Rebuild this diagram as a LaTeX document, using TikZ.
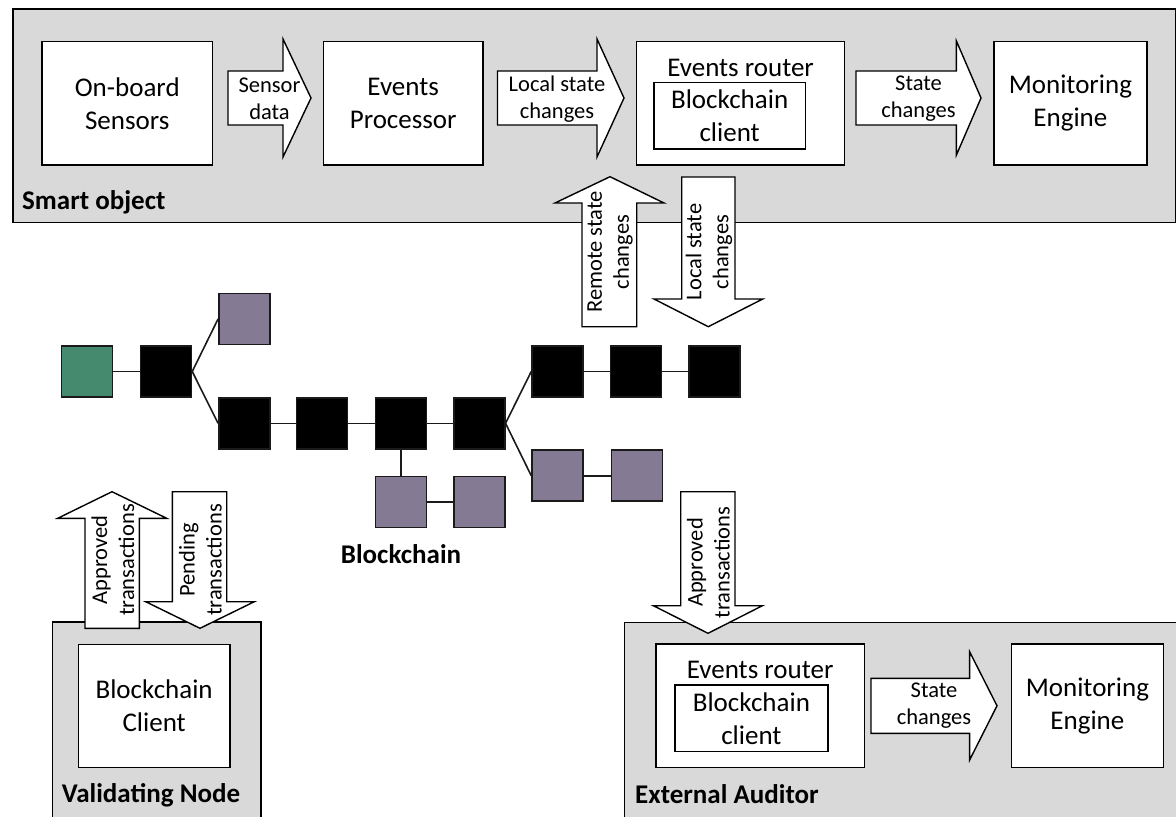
\documentclass[tikz,border=0pt]{standalone}
\usepackage{fontspec}
\setmainfont{Carlito}
\definecolor{panelgray}{RGB}{217,217,217}
\definecolor{chaingreen}{RGB}{69,138,110}
\definecolor{chainpurple}{RGB}{133,122,147}
\definecolor{linecol}{RGB}{26,26,26}
\begin{document}
\begin{tikzpicture}[x=1pt,y=-1pt,
  panel/.style={draw=black, line width=1.5pt, fill=panelgray, inner sep=0pt, anchor=north west},
  box/.style={draw=black, line width=1.5pt, fill=white, inner sep=0pt, align=center,
              font=\fontsize{27}{33}\selectfont},
  blockarrow/.style={draw=black, line width=1.4pt, fill=white, line join=miter},
  arrowtext/.style={font=\fontsize{22.5}{27}\selectfont, align=center, inner sep=0pt},
  boxtext/.style={font=\fontsize{27}{33}\selectfont, align=center, inner sep=0pt},
  paneltitle/.style={font=\bfseries\fontsize{27}{33}\selectfont, anchor=base west, inner sep=0pt},
  blk/.style={draw=linecol, line width=1.5pt, minimum width=51pt, minimum height=51pt, inner sep=0pt},
  mainblk/.style={blk, fill=black},
  orphan/.style={blk, fill=chainpurple},
  genesis/.style={blk, fill=chaingreen},
  link/.style={draw=linecol, line width=1.6pt}
]
\useasboundingbox (0,0) rectangle (1176,817);
\clip (0,0) rectangle (1176,817);

% ---------- containers ----------
\node[panel, minimum width=1162.8pt, minimum height=213.4pt] (smart) at (12.2,8.3) {};
\node[panel, minimum width=208.3pt, minimum height=220pt] (validating) at (51.7,621) {};
\node[panel, minimum width=570pt, minimum height=220pt] (auditor) at (623.7,621.7) {};

\node[paneltitle] (smarttitle) at (22,209) {Smart object};
\node[paneltitle] (validtitle) at (61.7,802) {Validating Node};
\node[paneltitle] (audittitle) at (635,803.5) {External Auditor};

% ---------- smart object components ----------
\node[box, minimum width=170.3pt, minimum height=123.3pt] (sensors) at (127.25,103.35) {On-board\\Sensors};
\node[box, minimum width=159.6pt, minimum height=123.3pt] (processor) at (403.2,103.35) {Events\\Processor};
\node[box, minimum width=208pt, minimum height=123.3pt] (router) at (740.6,103.35) {};
\node[boxtext] (routertext) at (740.6,68) {Events router};
\node[box, minimum width=151.7pt, minimum height=66.3pt] (rclient) at (729.65,115.85) {Blockchain\\client};
\node[box, minimum width=152.8pt, minimum height=123.3pt] (monitor) at (1070.4,103.35) {Monitoring\\Engine};

% horizontal block arrows
\draw[blockarrow] (228,71) -- (283,71) -- (283,39) -- (311,98) -- (283,157) -- (283,125) -- (228,125) -- cycle;
\node[arrowtext] (sensordata) at (269.5,99) {Sensor\\data};
\draw[blockarrow] (497.5,71) -- (597,71) -- (597,39) -- (624,98) -- (597,157) -- (597,125) -- (497.5,125) -- cycle;
\node[arrowtext] (localtext) at (557,99) {Local state\\changes};
\draw[blockarrow] (856,71) -- (956.4,71) -- (956.4,41) -- (981,98) -- (956.4,155) -- (956.4,125) -- (856,125) -- cycle;
\node[arrowtext] (statetext) at (918.5,99) {State\\changes};

% ---------- validating node ----------
\node[box, minimum width=151.7pt, minimum height=123.4pt] (vclient) at (154.15,706) {Blockchain\\Client};

% ---------- external auditor ----------
\node[box, minimum width=208.3pt, minimum height=123.7pt] (arouter) at (760.15,705.85) {};
\node[boxtext] (aroutertext) at (760.15,670) {Events router};
\node[box, minimum width=152.8pt, minimum height=66.7pt] (aclient) at (751.4,718.35) {Blockchain\\client};
\node[box, minimum width=152pt, minimum height=123.7pt] (amonitor) at (1087.4,705.85) {Monitoring\\Engine};
\draw[blockarrow] (871,678.3) -- (969.6,678.3) -- (969.6,651.7) -- (997,705.8) -- (969.6,760) -- (969.6,733.3) -- (871,733.3) -- cycle;
\node[arrowtext] (astatetext) at (934,706) {State\\changes};

% ---------- vertical block arrows ----------
% remote state changes (up)
\draw[blockarrow] (582,326.7) -- (582,203) -- (555,203) -- (610,176.7) -- (664,203) -- (636.7,203) -- (636.7,326.7) -- cycle;
\node[arrowtext, rotate=90] (remotetext) at (610,252) {Remote state\\changes};
% local state changes (down)
\draw[blockarrow] (681.7,177) -- (735,177) -- (735,299) -- (762.7,299) -- (708.3,326.7) -- (654,299) -- (681.7,299) -- cycle;
\node[arrowtext, rotate=90] (localdown) at (709,252) {Local state\\changes};
% approved transactions to the validating node (up)
\draw[blockarrow] (85,628.3) -- (85,518.3) -- (57.7,518.3) -- (112,491.7) -- (166.7,518.3) -- (139.3,518.3) -- (139.3,628.3) -- cycle;
\node[arrowtext, rotate=90] (vapproved) at (113,560) {Approved\\transactions};
% pending transactions (down)
\draw[blockarrow] (172.3,491.7) -- (226.7,491.7) -- (226.7,601.7) -- (254.3,601.7) -- (200,628.3) -- (145.7,601.7) -- (172.3,601.7) -- cycle;
\node[arrowtext, rotate=90] (pending) at (200.5,560) {Pending\\transactions};
% approved transactions to the auditor (down)
\draw[blockarrow] (680.7,491.7) -- (735,491.7) -- (735,605.7) -- (762.4,605.7) -- (708,633.3) -- (653.4,605.7) -- (680.7,605.7) -- cycle;
\node[arrowtext, rotate=90] (aapproved) at (708.5,562.5) {Approved\\transactions};

% ---------- blockchain ----------
\node[genesis] (g) at (87,371.5) {};
\node[mainblk] (b1) at (166,371.5) {};
\node[orphan] (o1) at (244.3,319) {};
\node[mainblk] (m1) at (244.3,423.3) {};
\node[mainblk] (m2) at (322,423.3) {};
\node[mainblk] (m3) at (401,423.3) {};
\node[mainblk] (m4) at (479.3,423.3) {};
\node[mainblk] (t1) at (557.5,371.5) {};
\node[mainblk] (t2) at (636,371.5) {};
\node[mainblk] (t3) at (714.5,371.5) {};
\node[orphan] (f1) at (557.5,475.7) {};
\node[orphan] (f2) at (637,475.7) {};
\node[orphan] (s1) at (401,502) {};
\node[orphan] (s2) at (479.6,502) {};

\draw[link] (g.east) -- (b1.west);
\draw[link] (b1.east) -- (o1.west);
\draw[link] (b1.east) -- (m1.west);
\draw[link] (m1) -- (m2);
\draw[link] (m2) -- (m3);
\draw[link] (m3) -- (m4);
\draw[link] (m4.east) -- (t1.west);
\draw[link] (m4.east) -- (f1.west);
\draw[link] (t1) -- (t2);
\draw[link] (t2) -- (t3);
\draw[link] (f1) -- (f2);
\draw[link] (m3.south) -- (s1.north);
\draw[link] (s1) -- (s2);

\node[font=\bfseries\fontsize{27}{33}\selectfont, anchor=base, inner sep=0pt] (chainlabel) at (401,563) {Blockchain};
\end{tikzpicture}
\end{document}
